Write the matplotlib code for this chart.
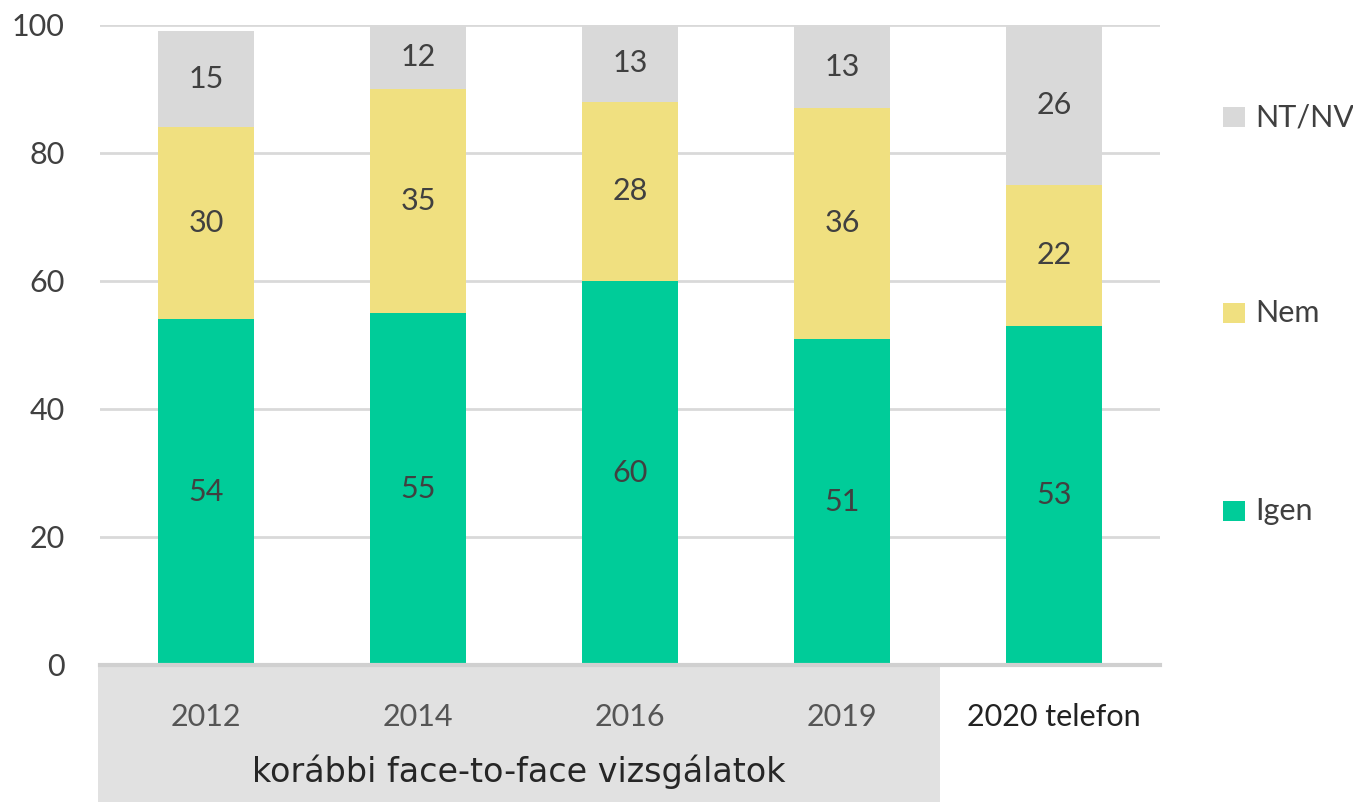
import matplotlib.pyplot as plt
from matplotlib.patches import Rectangle
from matplotlib.transforms import blended_transform_factory

plt.rcParams['font.family'] = ['Lato', 'DejaVu Sans']

# Adatok
categories = ['2012', '2014', '2016', '2019', '2020 telefon']
igen = [54, 55, 60, 51, 53]
nem = [30, 35, 28, 36, 22]
ntnv = [15, 12, 13, 13, 26]
series_names = ['Igen', 'Nem', 'NT/NV']
colors = ['#00cc99', '#f0e080', '#d9d9d9']
group_label = 'korábbi face-to-face vizsgálatok'
txt = '#404040'

W, H = 1353, 802
fig = plt.figure(figsize=(W / 100, H / 100), dpi=100)
ax = fig.add_axes([100 / W, 1 - 665 / H, 1060 / W, 640 / H])

x = list(range(len(categories)))
bottom = [0] * len(x)
for vals, name, col in zip([igen, nem, ntnv], series_names, colors):
    bars = ax.bar(x, vals, width=0.457, bottom=bottom, color=col, label=name, zorder=2)
    ax.bar_label(bars, label_type='center', fontsize=22, color=txt)
    bottom = [b + v for b, v in zip(bottom, vals)]

ax.set_xlim(-0.5, 4.5)
ax.set_ylim(0, 100)
ax.set_yticks([0, 20, 40, 60, 80, 100])
ax.set_xticks(x, categories)
ax.tick_params(axis='y', length=0, pad=25.5, labelsize=22, labelcolor=txt)
ax.tick_params(axis='x', length=0, pad=27, labelsize=22, labelcolor='#555555')
ax.get_xticklabels()[-1].set_color('#222222')
ax.yaxis.grid(True, color='#d9d9d9', linewidth=2)
ax.set_axisbelow(True)
for s in ['top', 'right', 'left']:
    ax.spines[s].set_visible(False)
ax.spines['bottom'].set_color('#d0d0d0')
ax.spines['bottom'].set_linewidth(3)
ax.spines['bottom'].set_zorder(3)

# szürke doboz a korábbi vizsgálatok alatt
trans = blended_transform_factory(ax.transData, ax.transAxes)
ax.add_patch(Rectangle((-0.51, -0.22), 3.97, 0.22, transform=trans,
                       facecolor='#e1e1e1', edgecolor='none', clip_on=False, zorder=0))
ax.text(1.475, -0.167, group_label, transform=trans, ha='center', va='center',
        fontsize=24, color='#262626', fontfamily='DejaVu Sans')

# jelmagyarázat
legend_y = [511, 313, 117]
for name, col, yc in zip(series_names, colors, legend_y):
    fig.add_artist(Rectangle((1223 / W, 1 - (yc + 10) / H), 22 / W, 20 / H,
                             transform=fig.transFigure, facecolor=col, edgecolor='none'))
    fig.text(1255 / W, 1 - yc / H, name, ha='left', va='center', fontsize=22, color=txt)

fig.savefig('out.png', dpi=100)
